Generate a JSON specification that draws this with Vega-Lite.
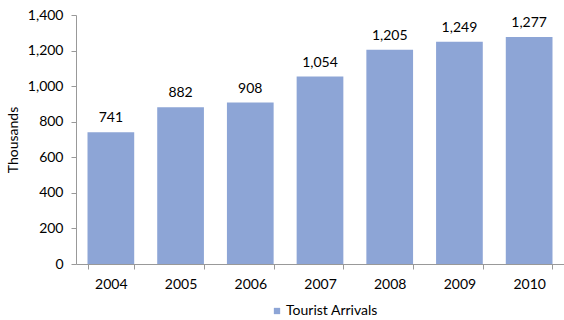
{
  "$schema": "https://vega.github.io/schema/vega-lite/v6.json",
  "autosize": "none",
  "width": 488,
  "height": 249,
  "padding": {"left": 76, "top": 15, "right": 0, "bottom": 56},
  "data": {"values": [
    {"year": "2004", "value": 741, "series": "Tourist Arrivals"},
    {"year": "2005", "value": 882, "series": "Tourist Arrivals"},
    {"year": "2006", "value": 908, "series": "Tourist Arrivals"},
    {"year": "2007", "value": 1054, "series": "Tourist Arrivals"},
    {"year": "2008", "value": 1205, "series": "Tourist Arrivals"},
    {"year": "2009", "value": 1249, "series": "Tourist Arrivals"},
    {"year": "2010", "value": 1277, "series": "Tourist Arrivals"}
  ]},
  "config": {
    "view": {"stroke": null},
    "font": "Lato",
    "axis": {"labelFont": "Lato", "titleFont": "Lato", "labelColor": "#000", "titleColor": "#000", "labelFontSize": 14, "titleFontSize": 14, "titleFontWeight": "normal", "domainColor": "#999", "tickColor": "#999", "grid": false, "labelOverlap": false}
  },
  "encoding": {
    "x": {"field": "year", "type": "nominal", "scale": {"paddingInner": 0.33, "paddingOuter": 0.165},
      "axis": {"title": null, "labelAngle": 0, "tickBand": "extent", "tickSize": 5, "labelPadding": 8}},
    "y": {"field": "value", "type": "quantitative", "scale": {"domain": [0, 1400]},
      "axis": {"title": "Thousands", "values": [0, 200, 400, 600, 800, 1000, 1200, 1400], "format": ",.0f", "tickSize": 5, "labelPadding": 8, "titlePadding": 7}}
  },
  "layer": [
    {"mark": {"type": "bar", "color": "#8DA5D6"},
     "encoding": {"color": {"field": "series", "type": "nominal", "scale": {"range": ["#8DA5D6"]},
       "legend": {"title": null, "orient": "none", "legendX": 194, "legendY": 289, "direction": "horizontal", "padding": 0, "symbolType": "square", "symbolSize": 40, "labelFontSize": 14, "labelFont": "Lato", "labelColor": "#000", "labelOffset": 2, "symbolStrokeWidth": 0, "symbolOpacity": 1}}}},
    {"mark": {"type": "text", "dy": -10, "baseline": "alphabetic", "fontSize": 14, "font": "Lato", "color": "#000"},
     "encoding": {"text": {"field": "value", "type": "quantitative", "format": ",.0f"}}}
  ]
}
